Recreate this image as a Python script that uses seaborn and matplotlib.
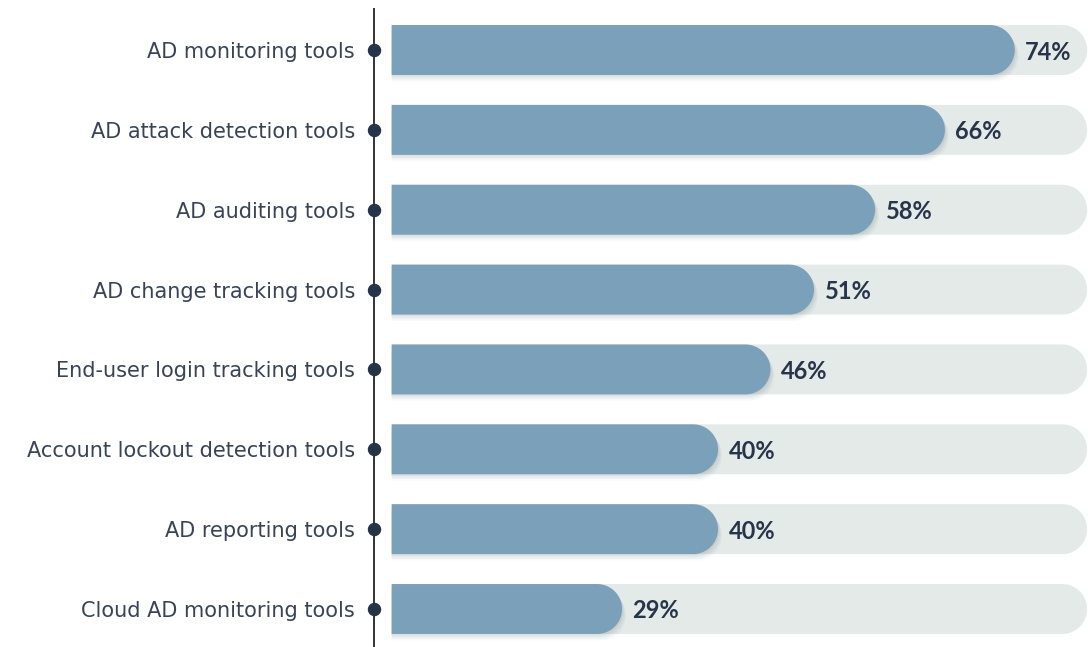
import matplotlib
matplotlib.use("Agg")
import matplotlib.pyplot as plt
from matplotlib.patches import Polygon
import numpy as np
import pandas as pd
import seaborn as sns

# Survey results: share of respondents using each kind of AD tool
categories = [
    "AD monitoring tools",
    "AD attack detection tools",
    "AD auditing tools",
    "AD change tracking tools",
    "End-user login tracking tools",
    "Account lockout detection tools",
    "AD reporting tools",
    "Cloud AD monitoring tools",
]
values = [74, 66, 58, 51, 46, 40, 40, 29]

BAR_BLUE = "#7ba0ba"
TRACK = "#e4eae8"
INK = "#26354a"
LABEL_INK = "#384456"
DOT = "#253447"

TRACK_END = 82.3      # right end of the grey background pills
BAR_START = 2.6       # bars begin just right of the timeline
AXIS_X = 0.6          # x position of the vertical timeline
BAR_H = 0.625

sns.set_theme(style="white")
plt.rcParams["font.family"] = ["DejaVu Sans"]

W, H = 1088, 647
fig = plt.figure(figsize=(W / 100, H / 100), dpi=100)
ax = fig.add_axes([369 / W, 0, (W - 369) / W, 1 - 8 / H])

df = pd.DataFrame({"tool": categories, "pct": values})
df["track"] = TRACK_END

sns.barplot(data=df, x="track", y="tool", color=TRACK, width=BAR_H,
            saturation=1, ax=ax)
n_track = len(ax.patches)
sns.barplot(data=df, x="pct", y="tool", color=BAR_BLUE, width=BAR_H,
            saturation=1, ax=ax)

ax.set_xlim(0, 82.4)
ax.set_ylim(7.476, -0.526)
for s in ax.spines.values():
    s.set_visible(False)
ax.set_xlabel("")
ax.set_ylabel("")
ax.set_xticks([])
ax.tick_params(axis="y", length=0, pad=10, labelsize=15, labelcolor=LABEL_INK)

fig.canvas.draw()
px_per_x = ax.transData.transform((1, 0))[0] - ax.transData.transform((0, 0))[0]
px_per_y = abs(ax.transData.transform((0, 1))[1] - ax.transData.transform((0, 0))[1])


def pill(x0, x1, yc, h, **kw):
    """Bar with a flat left end and a semicircular right end."""
    r_px = h * px_per_y / 2
    rx = r_px / px_per_x
    cx = x1 - rx
    th = np.linspace(-np.pi / 2, np.pi / 2, 60)
    arc = np.column_stack([cx + rx * np.cos(th), yc + (h / 2) * np.sin(th)])
    pts = np.vstack([[x0, yc - h / 2], arc, [x0, yc + h / 2]])
    return Polygon(pts, closed=True, linewidth=0, **kw)


patches = list(ax.patches)
for p in patches:
    p.remove()

for i, p in enumerate(patches):
    yc = p.get_y() + p.get_height() / 2
    h = p.get_height()
    x1 = p.get_x() + p.get_width()
    if i < n_track:
        ax.add_patch(pill(BAR_START, x1, yc, h, facecolor=TRACK, zorder=1))
    else:
        # soft drop shadow under the value bar
        for k, a in [(4, 0.04), (3, 0.05), (2, 0.06), (1, 0.07)]:
            dx = k * 1.0 / px_per_x
            dy = k * 1.6 / px_per_y
            ax.add_patch(pill(BAR_START, x1 + dx, yc + dy, h, facecolor="#5a6a70",
                              alpha=a, zorder=2))
        ax.add_patch(pill(BAR_START, x1, yc, h, facecolor=BAR_BLUE, zorder=3))

# vertical timeline with a dot at each category
ax.axvline(AXIS_X, color="#111111", linewidth=1.2, zorder=4)
ax.scatter([AXIS_X] * len(categories), range(len(categories)), s=75,
           color=DOT, zorder=5, clip_on=False)

for i, v in enumerate(values):
    ax.text(v + 1.2, i, f"{v}%", ha="left", va="center_baseline", fontsize=17,
            fontweight="bold", fontstyle="normal", color=INK, family="Lato",
            zorder=6)

fig.savefig("out.png", dpi=100)
